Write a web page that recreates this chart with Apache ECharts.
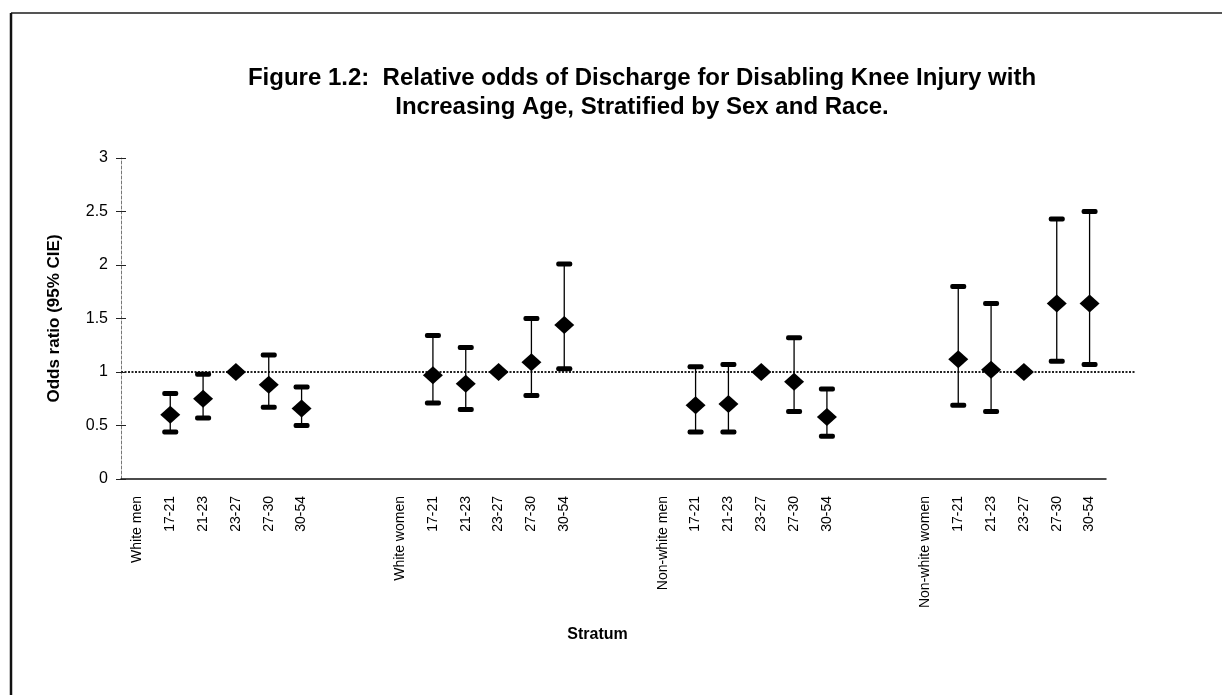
<!DOCTYPE html>
<html>
<head>
<meta charset="utf-8">
<script src="https://cdn.jsdelivr.net/npm/echarts@6/dist/echarts.min.js"></script>
<style>
html,body{margin:0;padding:0;background:#fff;}
#chart{width:1222px;height:695px;}
</style>
</head>
<body>
<div id="chart"></div>
<script>
// ---- data ----
var categories = [
  'White men','17-21','21-23','23-27','27-30','30-54','','',
  'White women','17-21','21-23','23-27','27-30','30-54','','',
  'Non-white men','17-21','21-23','23-27','27-30','30-54','','',
  'Non-white women','17-21','21-23','23-27','27-30','30-54'
];
var oddsRatio = [
  null,0.60,0.75,1.00,0.88,0.66,null,null,
  null,0.97,0.89,1.00,1.09,1.44,null,null,
  null,0.69,0.70,1.00,0.91,0.58,null,null,
  null,1.12,1.02,1.00,1.64,1.64
];
var lowerCI = [
  null,0.44,0.57,null,0.67,0.50,null,null,
  null,0.71,0.65,null,0.78,1.03,null,null,
  null,0.44,0.44,null,0.63,0.40,null,null,
  null,0.69,0.63,null,1.10,1.07
];
var upperCI = [
  null,0.80,0.98,null,1.16,0.86,null,null,
  null,1.34,1.23,null,1.50,2.01,null,null,
  null,1.05,1.07,null,1.32,0.84,null,null,
  null,1.80,1.64,null,2.43,2.50
];
var yTicks = ['0','0.5','1','1.5','2','2.5','3'];
var referenceOdds = 1;

var FONT = '"Liberation Sans", Arial, sans-serif';

var points = [];
for (var i = 0; i < categories.length; i++) {
  if (oddsRatio[i] == null) continue;
  points.push([i, oddsRatio[i],
    lowerCI[i] == null ? '-' : lowerCI[i],
    upperCI[i] == null ? '-' : upperCI[i]]);
}

function renderItem(params, api) {
  var idx = api.value(0);
  var c = api.coord([idx, api.value(1)]);
  var lo = api.value(2), hi = api.value(3);
  var children = [];
  if (!isNaN(lo) && !isNaN(hi)) {
    var pl = api.coord([idx, lo]);
    var ph = api.coord([idx, hi]);
    children.push({type:'line', shape:{x1:c[0], y1:pl[1], x2:c[0], y2:ph[1]},
      style:{stroke:'#000', lineWidth:1.3}});
    [pl, ph].forEach(function (p) {
      children.push({type:'rect', shape:{x:c[0]-8, y:p[1]-2.5, width:16, height:5, r:2},
        style:{fill:'#000'}});
    });
  }
  children.push({type:'polygon', shape:{points:[[c[0], c[1]-9],[c[0]+10, c[1]],[c[0], c[1]+9],[c[0]-10, c[1]]]},
    style:{fill:'#000'}});
  return {type:'group', children:children};
}

var chart = echarts.init(document.getElementById('chart'), null, {renderer:'canvas'});
var option = {
  backgroundColor:'#fff',
  animation:false,
  title:{
    text:'Figure 1.2:  Relative odds of Discharge for Disabling Knee Injury with\nIncreasing Age, Stratified by Sex and Race.',
    left:637, top:59, textAlign:'center',
    textStyle:{fontFamily:FONT, fontWeight:'bold', fontSize:24, lineHeight:29, color:'#000', align:'center'}
  },
  graphic:[
    {type:'line', shape:{x1:11, y1:13, x2:1222, y2:13}, style:{stroke:'#555', lineWidth:2}},
    {type:'line', shape:{x1:11, y1:13, x2:11, y2:695}, style:{stroke:'#111', lineWidth:2.5}}
  ],
  grid:[
    {left:121, right:116, top:158, bottom:216},
    {left:121, right:87, top:158, bottom:216}
  ],
  xAxis:[
    {type:'category', gridIndex:0, data:categories,
      axisLine:{lineStyle:{color:'#111', width:1.5}},
      axisTick:{show:false},
      axisLabel:{interval:0, rotate:90, margin:17, fontFamily:FONT, fontSize:14, color:'#000'},
      name:'Stratum', nameLocation:'middle', nameGap:148,
      nameTextStyle:{fontFamily:FONT, fontWeight:'bold', fontSize:16, color:'#000', padding:[0,32,0,0]}
    },
    {type:'value', gridIndex:1, min:0, max:1, show:false}
  ],
  yAxis:[
    {type:'value', gridIndex:0, min:0, max:3, interval:0.5,
      axisLine:{show:true, lineStyle:{color:'#777', width:1, type:[3,2]}},
      axisTick:{show:true, length:5, lineStyle:{color:'#222'}},
      axisLabel:{margin:13, fontFamily:FONT, fontSize:16, color:'#000',
        formatter:function (v) { return yTicks[Math.round(v / 0.5)]; }},
      splitLine:{show:false},
      name:'Odds ratio (95% CIE)', nameLocation:'middle', nameGap:58, nameRotate:90,
      nameTextStyle:{fontFamily:FONT, fontWeight:'bold', fontSize:17, color:'#000'}
    },
    {type:'value', gridIndex:0, min:0, max:3, interval:0.5, position:'left',
      axisLine:{show:false}, axisLabel:{show:false}, splitLine:{show:false},
      axisTick:{show:true, inside:true, length:5, lineStyle:{color:'#222'}}
    },
    {type:'value', gridIndex:1, min:0, max:3, show:false}
  ],
  series:[
    {type:'line', xAxisIndex:1, yAxisIndex:2, data:[[0, referenceOdds],[1, referenceOdds]],
      symbol:'none', lineStyle:{color:'#222', width:2, type:[2,1.5]}, z:1, silent:true},
    {type:'custom', xAxisIndex:0, yAxisIndex:0, data:points, renderItem:renderItem,
      encode:{x:0, y:[1,2,3]}, z:3}
  ]
};
chart.setOption(option);
</script>
</body>
</html>
